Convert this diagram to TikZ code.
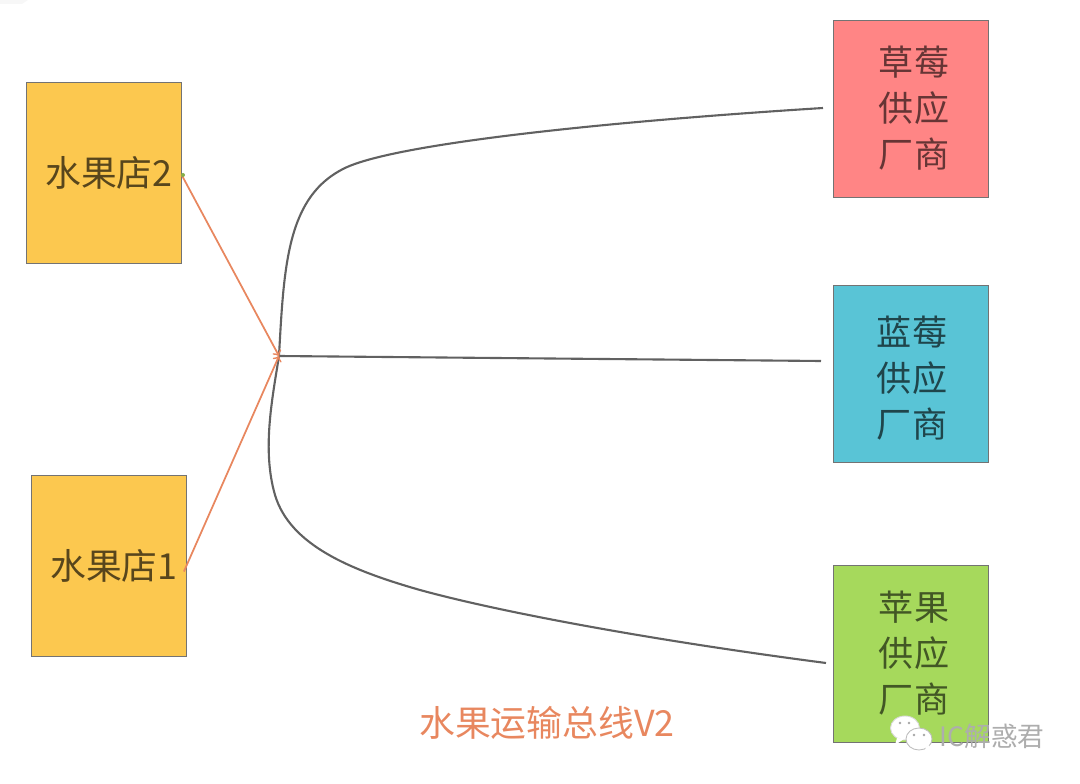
\documentclass[tikz,border=0pt]{standalone}
\usepackage{fontspec}
\setmainfont{Noto Sans CJK SC}[Scale=1]
\usepackage{tikz}

\definecolor{storeyellow}{HTML}{FCC84F}
\definecolor{berryred}{HTML}{FF8585}
\definecolor{berryblue}{HTML}{59C4D6}
\definecolor{applegreen}{HTML}{A6D95C}
\definecolor{busorange}{HTML}{E8875F}

\begin{document}
\begin{tikzpicture}[x = 0.02cm, y = -0.02cm, line width = 0.5pt,
                    store/.style = {rectangle, draw = black!55, inner sep = 0pt, minimum width = 3.1cm, minimum height = 3.62cm, fill = storeyellow},
                    supplier/.style = {rectangle, draw = black!55, inner sep = 0pt, minimum width = 3.1cm, minimum height = 3.54cm},
                    storetext/.style = {text = black!65!storeyellow, font = \fontsize{20.4}{20.4}\selectfont},
                    suppliertext/.style = {align = center, font = \fontsize{20}{26.4}\selectfont},
                    busline/.style = {draw = black!62, line width = 1.2pt},
                    feed/.style = {draw = busorange, line width = 1pt, ->}]

\useasboundingbox (0,0) rectangle (1080,784);

% screenshot corner
\fill[black!3] (0,0) -- (0,4) -- (22,4) -- (28,0) -- cycle;

% stores
\node [store] (store2) at (103.5,172.5) {};
\node [store] (store1) at (109,565.5) {};
\node [storetext] (store2text) at (109,173) {水果店2};
\node [storetext] (store1text) at (114,566) {水果店1};

% suppliers
\node [supplier, fill = berryred] (straw) at (911,108.5) {};
\node [supplier, fill = berryblue] (blue) at (911,373.5) {};
\node [supplier, fill = applegreen] (apple) at (911,653.5) {};
\node [suppliertext, text = black!60!berryred] (strawtext) at (914,108) {草莓\\供应\\厂商};
\node [suppliertext, text = black!65!berryblue] (bluetext) at (912,378) {蓝莓\\供应\\厂商};
\node [suppliertext, text = black!60!applegreen] (appletext) at (914,653) {苹果\\供应\\厂商};

% bus
\coordinate (hub) at (279,356);
\coordinate (strawend) at (823,108);
\coordinate (blueend) at (821,361);
\coordinate (appleend) at (826,663);

\draw [busline] (hub) .. controls (284,265) and (287,196) .. (345,168) .. controls (395,144) and (600,122) .. (strawend);
\draw [busline] (hub) -- (blueend);
\draw [busline] (hub) .. controls (272,400) and (262,450) .. (275,495) .. controls (290,545) and (350,570) .. (420,590) .. controls (500,612) and (650,640) .. (appleend);

\draw [feed] (store2.east) ++(0,2) -- (hub);
\draw [feed] (store1.east) ++(-3,6) -- (hub);
\fill [applegreen!80!black] (183,175) circle (2);

\node [text = busorange, font = \fontsize{20.4}{20.4}\selectfont] (title) at (547,723) {水果运输总线V2};

% watermark
\draw [fill = white, draw = black!15] (905,728) ellipse (14.5 and 12);
\fill [white] (897,738) -- (895,745) -- (904,739) -- cycle;
\draw [fill = white, draw = black!25] (919,739) ellipse (13 and 11);
\fill [white] (925,748) -- (930,752) -- (929,745) -- cycle;
\fill [black!35] (900,723) circle (1.4) (909,723) circle (1.4) (914,735) circle (1.4) (924,735) circle (1.4);
\node [text = black!32, font = \fontsize{15.2}{15.2}\selectfont] (mark) at (992,736) {IC解惑君};

\end{tikzpicture}
\end{document}
